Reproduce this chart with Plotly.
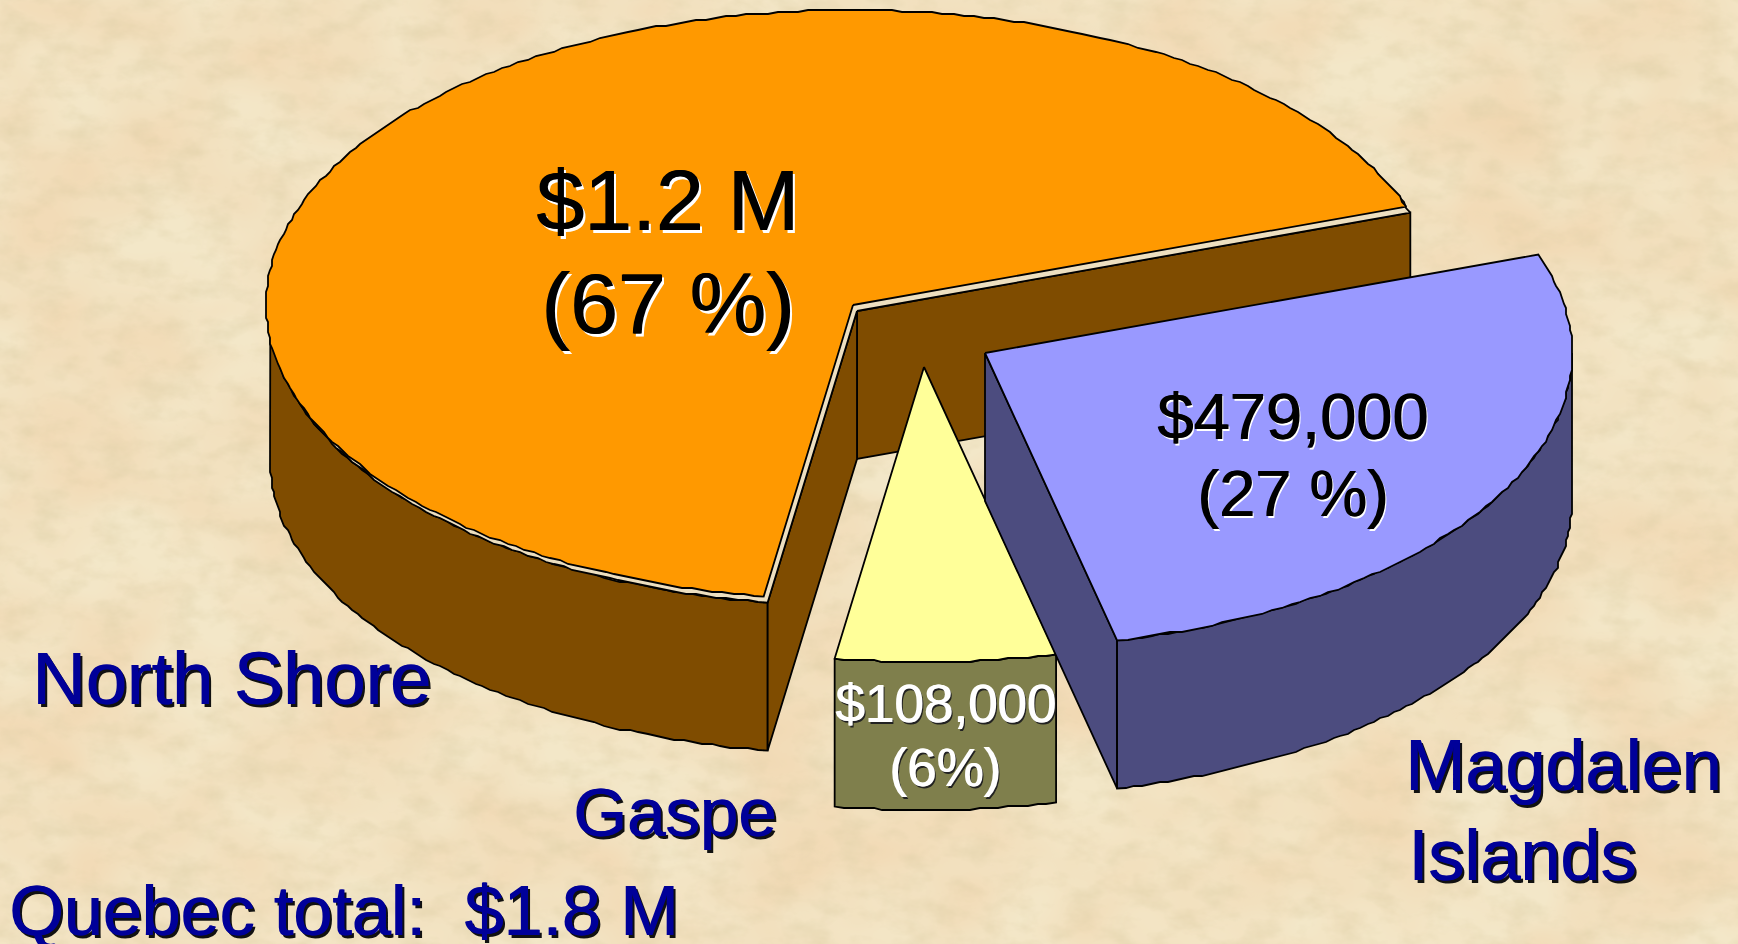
import base64
import numpy as np
import plotly.graph_objects as go

# ---- data ----
regions = ["North Shore", "Gaspe", "Magdalen Islands"]
amounts = [1200000, 108000, 479000]
amount_labels = ["$1.2 M", "$108,000", "$479,000"]
percent_labels = ["(67 %)", "(6%)", "(27 %)"]
total_label = "Quebec total:  $1.8 M"

# ---- styling / projection ----
W, H = 1738, 944
RX, RY = 587, 295            # ellipse radii of the tilted pie
DEPTH = 148                  # extrusion height
START = 19.5                 # degrees, counter-clockwise
CENTERS = [(853, 305), (924, 367), (985, 353)]   # exploded slice apexes
TOP = ["#ff9900", "#ffff99", "#9999ff"]
SIDE = ["#7f4c00", "#7f7f4c", "#4c4c7f"]
RIM = "#eddfc0"
NAVY = "#000099"
EDGE = 1.8
SNAP = 2.0                   # outline grain, mimics the low-res source edge

total = sum(amounts)
spans = [v / total * 360 for v in amounts]
starts = [START + sum(spans[:i]) for i in range(len(spans))]


def arc(cx, cy, a0, a1, n=90):
    t = np.radians(np.linspace(a0, a1, n))
    x = cx + RX * np.cos(t)
    y = cy - RY * np.sin(t)
    inner_x, inner_y = np.round(x[1:-1] / SNAP) * SNAP, np.round(y[1:-1] / SNAP) * SNAP
    return np.r_[x[0], inner_x, x[-1]], np.r_[y[0], inner_y, y[-1]]


def poly(fig, xs, ys, fill, name):
    fig.add_trace(go.Scatter(
        x=list(xs), y=list(ys), mode="lines", fill="toself", fillcolor=fill,
        line=dict(color="black", width=EDGE), hoverinfo="skip", name=name,
        showlegend=False))


def extrude(fig, xs, ys, fill, name):
    xs, ys = np.asarray(xs), np.asarray(ys)
    poly(fig, np.r_[xs, xs[::-1], xs[0]], np.r_[ys, ys[::-1] + DEPTH, ys[0]], fill, name)


fig = go.Figure()

# North Shore: body sits slightly below/right of its top face
i = 0
a0, a1 = starts[i], starts[i] + spans[i]
cx, cy = CENTERS[i]
rx, ry = cx + 4, cy + 6
ex, ey = arc(rx, ry, a0, a1, 240)
extrude(fig, [rx, ex[0]], [ry, ey[0]], SIDE[i], regions[i] + " back wall")
ox, oy = arc(rx, ry, 178, a1)
extrude(fig, ox, oy, SIDE[i], regions[i] + " outer wall")
extrude(fig, [ex[-1], rx], [ey[-1], ry], SIDE[i], regions[i] + " cut wall")
poly(fig, np.r_[rx, ex, rx], np.r_[ry, ey, ry], RIM, regions[i] + " rim")
tx, ty = arc(cx, cy, a0, a1, 240)
poly(fig, np.r_[cx, tx, cx], np.r_[cy, ty, cy], TOP[i], regions[i])

# Gaspe
i = 1
a0, a1 = starts[i], starts[i] + spans[i]
cx, cy = CENTERS[i]
tx, ty = arc(cx, cy, a0, a1, 24)
extrude(fig, tx, ty, SIDE[i], regions[i] + " outer wall")
poly(fig, np.r_[cx, tx, cx], np.r_[cy, ty, cy], TOP[i], regions[i])

# Magdalen Islands
i = 2
a0, a1 = starts[i], starts[i] + spans[i]
cx, cy = CENTERS[i]
tx, ty = arc(cx, cy, a0, a1)
extrude(fig, [cx, tx[0]], [cy, ty[0]], SIDE[i], regions[i] + " cut wall")
ox, oy = arc(cx, cy, a0, 360)
extrude(fig, ox, oy, SIDE[i], regions[i] + " outer wall")
poly(fig, np.r_[cx, tx, cx], np.r_[cy, ty, cy], TOP[i], regions[i])


def note(text, x, y, size, color, shadow, anchor="center", family="Liberation Sans"):
    return dict(text=text, x=x, y=y, xref="x", yref="y", showarrow=False,
                xanchor=anchor, yanchor="middle",
                font=dict(family=family, size=size, color=color, shadow=shadow))


BIG = "1px 0 0 #000, 3px 3px 0 #fff"
MID = "1px 0 0 #000, 2px 2px 0 #fff"
SMALL = "1px 0 0 #fff, 2px 2px 0 #222"
BLUE = f"1px 0 0 {NAVY}, 3px 3px 0 #111"
annotations = [
    note(amount_labels[0], 667, 200, 86, "black", BIG),
    note(percent_labels[0], 667, 303, 86, "black", BIG),
    note(amount_labels[2], 1292, 416, 65, "black", MID),
    note(percent_labels[2], 1292, 493, 65, "black", MID),
    note(amount_labels[1], 945, 703, 53, "white", SMALL),
    note(percent_labels[1], 945, 767, 53, "white", SMALL),
    note(regions[0], 231, 678, 74, NAVY, BLUE),
    note(regions[1], 674, 812, 69, NAVY, BLUE),
    note("Magdalen", 1403, 765, 72, NAVY, BLUE, anchor="left"),
    note("Islands", 1406, 855, 72, NAVY, BLUE, anchor="left"),
    note(total_label.replace("  ", "&nbsp;&nbsp;"), 7, 911, 70, NAVY, BLUE, anchor="left"),
]

# Parchment backdrop (decorative only, carries no data)
svg = f'''<svg xmlns="http://www.w3.org/2000/svg" width="{W}" height="{H}">
<filter id="a" x="0" y="0" width="100%" height="100%"><feTurbulence type="fractalNoise" baseFrequency="0.007 0.010" numOctaves="3" seed="7"/>
<feColorMatrix values="0 0 0 0 0.88  0 0 0 0 0.68  0 0 0 0 0.44  1.7 0 0 0 -0.50"/></filter>
<filter id="b" x="0" y="0" width="100%" height="100%"><feTurbulence type="fractalNoise" baseFrequency="0.03 0.05" numOctaves="4" seed="3"/>
<feColorMatrix values="0 0 0 0 0.70  0 0 0 0 0.60  0 0 0 0 0.36  0.9 0 0 0 -0.38"/></filter>
<rect width="100%" height="100%" fill="#f3e7c8"/><rect width="100%" height="100%" filter="url(#a)"/><rect width="100%" height="100%" filter="url(#b)"/></svg>'''
bg = "data:image/svg+xml;base64," + base64.b64encode(svg.encode()).decode()

fig.update_layout(
    width=W, height=H, margin=dict(l=0, r=0, t=0, b=0),
    paper_bgcolor="#ecdcb8", plot_bgcolor="rgba(0,0,0,0)", showlegend=False,
    xaxis=dict(range=[0, W], visible=False, fixedrange=True),
    yaxis=dict(range=[H, 0], visible=False, fixedrange=True),
    annotations=annotations,
    images=[dict(source=bg, xref="paper", yref="paper", x=0, y=1, sizex=1, sizey=1,
                 xanchor="left", yanchor="top", sizing="stretch", layer="below")],
)

fig.write_html("out.html", config={"displayModeBar": False},
               post_script="document.body.style.margin='0';document.documentElement.style.overflow='hidden';")
